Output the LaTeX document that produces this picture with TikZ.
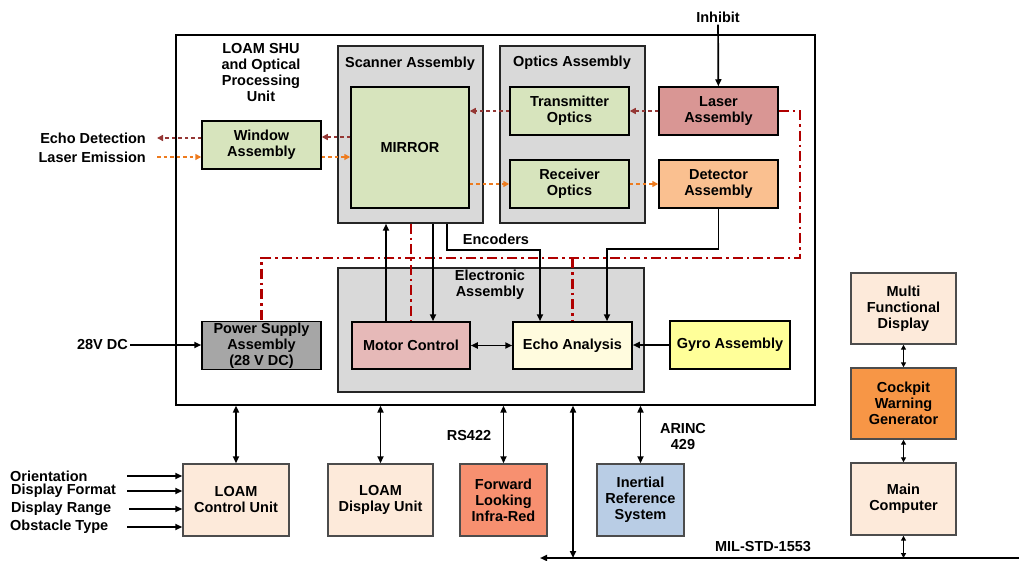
\documentclass[tikz,border=0pt]{standalone}
\usepackage{fontspec}
\setmainfont{Liberation Sans}
\usetikzlibrary{arrows.meta, positioning, calc}

\definecolor{groupgray}{HTML}{D9D9D9}
\definecolor{optgreen}{HTML}{D7E4BD}
\definecolor{laserred}{HTML}{D99694}
\definecolor{detorange}{HTML}{FAC090}
\definecolor{motorpink}{HTML}{E6B9B8}
\definecolor{echoyellow}{HTML}{FFFBDE}
\definecolor{gyroyellow}{HTML}{FFFF99}
\definecolor{psugray}{HTML}{A6A6A6}
\definecolor{unitpeach}{HTML}{FDEADA}
\definecolor{flirsalmon}{HTML}{F79070}
\definecolor{irsblue}{HTML}{B9CDE5}
\definecolor{cwgorange}{HTML}{F79646}
\definecolor{echobrown}{HTML}{953735}
\definecolor{laserorange}{HTML}{EE7B1E}
\definecolor{powerred}{HTML}{B00000}

\begin{document}
\begin{tikzpicture}[x=1pt, y=-1pt, >={Triangle[length=7pt,width=6pt]}, font=\fontsize{14.5}{16}\selectfont\bfseries]

% Styles
\tikzstyle{block} = [rectangle, draw=black, line width=1.5pt, align=center, inner sep=1pt]
\tikzstyle{unit} = [rectangle, draw=black!70, line width=1.4pt, align=center, inner sep=1pt, fill=unitpeach]
\tikzstyle{group} = [rectangle, draw=black!85, line width=1.5pt, fill=groupgray]
\tikzstyle{lbl} = [align=center, inner sep=2pt]
\tikzstyle{sig} = [line width=1.7pt, ->]
\tikzstyle{bisig} = [line width=1.7pt, <->]
\tikzstyle{smallbi} = [line width=1.5pt, {Triangle[length=5pt,width=5pt]}-{Triangle[length=5pt,width=5pt]}]
\tikzstyle{echoline} = [line width=1.8pt, ->, echobrown, dash pattern=on 3.5pt off 3pt, >={Triangle[length=6pt,width=6pt]}]
\tikzstyle{emitline} = [line width=1.8pt, ->, laserorange, dash pattern=on 3.5pt off 3pt, >={Triangle[length=6pt,width=6pt]}]
\tikzstyle{powerline} = [line width=2.6pt, powerred, dash pattern=on 10pt off 4pt on 2.5pt off 4pt]

\useasboundingbox (0,0) rectangle (1019,561);

% --- LOAM SHU frame ---
\node (shu) [rectangle, draw=black, line width=1.2pt, minimum width=639, minimum height=370] at (495.5,220) {};
\node (shutitle) [lbl] at (261,73) {LOAM SHU\\and Optical\\Processing\\Unit};

% --- Scanner and optics ---
\node (scanner) [group, minimum width=145, minimum height=177] at (410.5,134.5) {};
\node (scantitle) [lbl] at (410,64) {Scanner Assembly};
\node (mirror) [block, fill=optgreen, minimum width=118, minimum height=121] at (410,147.5) {MIRROR};

\node (optics) [group, minimum width=145, minimum height=177] at (572.5,134.5) {};
\node (opttitle) [lbl] at (572,63) {Optics Assembly};
\node (tx) [block, fill=optgreen, minimum width=119, minimum height=48] at (569.5,111) {Transmitter\\Optics};
\node (rx) [block, fill=optgreen, minimum width=119, minimum height=48] at (569.5,184) {Receiver\\Optics};

\node (laser) [block, fill=laserred, minimum width=119, minimum height=48] at (718.5,111) {Laser\\Assembly};
\node (det) [block, fill=detorange, minimum width=119, minimum height=48] at (718.5,184) {Detector\\Assembly};
\node (window) [block, fill=optgreen, minimum width=119, minimum height=48] at (261.5,145) {Window\\Assembly};

% --- Electronics ---
\node (elec) [group, minimum width=306, minimum height=124] at (491,330) {};
\node (electitle) [lbl] at (490,285) {Electronic\\Assembly};
\node (motor) [block, fill=motorpink, minimum width=118, minimum height=47] at (411,345.5) {Motor Control};
\node (echo) [block, fill=echoyellow, minimum width=119, minimum height=47] at (572.5,345.5) {Echo Analysis};
\node (gyro) [block, fill=gyroyellow, minimum width=120, minimum height=48] at (730,345) {Gyro Assembly};
\node (psu) [block, fill=psugray, minimum width=119, minimum height=47] at (261.5,345.5) {Power Supply\\Assembly\\ (28 V DC)};

% --- Outside units ---
\node (lcu) [unit, minimum width=106, minimum height=72] at (236,500) {LOAM\\Control Unit};
\node (ldu) [unit, minimum width=105, minimum height=72] at (380.5,500) {LOAM\\Display Unit};
\node (flir) [unit, fill=flirsalmon, minimum width=87, minimum height=72] at (503.5,500) {Forward\\Looking\\Infra-Red};
\node (irs) [unit, fill=irsblue, minimum width=87, minimum height=72] at (640.5,500) {Inertial\\Reference\\System};
\node (mfd) [unit, minimum width=105, minimum height=71] at (903.5,308.5) {Multi\\Functional\\Display};
\node (cwg) [unit, fill=cwgorange, minimum width=105, minimum height=71] at (903.5,403.5) {Cockpit\\Warning\\Generator};
\node (mc) [unit, minimum width=105, minimum height=72] at (903.5,499) {Main\\Computer};

% --- Text labels ---
\node (inhibit) [lbl] at (718,17) {Inhibit};
\node (echodet) [lbl, anchor=east] at (148,138) {Echo Detection};
\node (laseremi) [lbl, anchor=east] at (148,157) {Laser Emission};
\node (dc) [lbl, anchor=east] at (130,345) {28V DC};
\node (encoders) [lbl] at (496,239) {Encoders};
\node (orient) [lbl, anchor=west] at (8,476) {Orientation};
\node (dform) [lbl, anchor=west] at (9,491) {Display Format};
\node (drange) [lbl, anchor=west] at (9,509) {Display Range};
\node (obst) [lbl, anchor=west] at (8,527) {Obstacle Type};
\node (rs) [lbl] at (469,436) {RS422};
\node (arinc) [lbl] at (683,437) {ARINC\\429};
\node (milstd) [lbl] at (763,547) {MIL-STD-1553};

\coordinate (pwrbus) at (800,258);
\coordinate (busL) at (540,558);
\coordinate (busR) at (1019,558);

% --- Optical paths ---
\draw[echoline] (laser.west) -- (tx.east);
\draw[echoline] (tx.west) -- (tx.west -| mirror.east);
\draw[echoline] ([yshift=10.5]mirror.west) -- ([yshift=8]window.east);
\draw[echoline] ([yshift=7]window.west) -- ([xshift=9]echodet.east);
\draw[emitline] ([xshift=9]laseremi.east) -- ([yshift=-12]window.west);
\draw[emitline] ([yshift=-12]window.east) -- ([yshift=-9.5]mirror.west);
\draw[emitline] (rx.west -| mirror.east) -- (rx.west);
\draw[emitline] (rx.east) -- (det.west);

% --- Power distribution ---
\draw[powerline] (laser.east) -| (pwrbus) -| (psu.north);
\draw[powerline] (motor.north |- scanner.south) -- (motor.north);
\draw[powerline] (echo.north |- pwrbus) -- (echo.north);

% --- Signals ---
\draw[sig] (inhibit) -- (laser);
\draw[sig] ([xshift=-25]motor.north) -- ([xshift=-25]motor.north |- scanner.south);
\draw[sig] ([xshift=22]motor.north |- scanner.south) -- ([xshift=22]motor.north);
\draw[sig] ([xshift=36.5]scanner.south) -- ++(0,26) -| ([xshift=-32.5]echo.north);
\draw[sig] (det.south) -- ++(0,40) -| ([xshift=34.5]echo.north);
\draw[bisig] (motor.east) -- (echo.west);
\draw[sig] (gyro.west) -- (gyro.west -| echo.east);
\draw[sig] (dc.east) -- (psu.west |- dc);

\draw[sig] ([xshift=-55]lcu.west |- orient) -- (lcu.west |- orient);
\draw[sig] ([xshift=-55]lcu.west |- dform) -- (lcu.west |- dform);
\draw[sig] ([xshift=-53]lcu.west |- drange) -- (lcu.west |- drange);
\draw[sig] ([xshift=-55]lcu.west |- obst) -- (lcu.west |- obst);

% --- External links ---
\draw[bisig] (shu.south -| lcu.north) -- (lcu.north);
\draw[bisig] (shu.south -| ldu.north) -- (ldu.north);
\draw[bisig] (shu.south -| flir.north) -- (flir.north);
\draw[bisig] (shu.south -| irs.north) -- (irs.north);
\draw[bisig] ([xshift=77.5]shu.south) -- ([xshift=77.5]shu.south |- busL);
\draw[line width=2pt, ->] (busR) -- (busL);
\draw[smallbi] (mfd.south) -- (cwg.north);
\draw[smallbi] (cwg.south) -- (mc.north);
\draw[smallbi] (mc.south) -- (mc.south |- busL);

\end{tikzpicture}
\end{document}
